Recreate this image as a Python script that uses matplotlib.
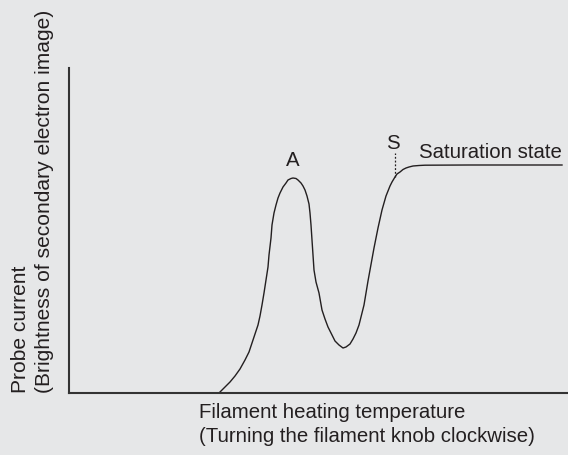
import matplotlib.pyplot as plt
import numpy as np

plt.rcParams['font.family'] = ['Liberation Sans', 'DejaVu Sans']

# probe current curve (arbitrary units)
temp = [151, 161, 166, 171, 176, 180, 183, 186, 189, 191, 193, 195, 197, 199,
        200, 202, 203, 205, 207, 209, 211, 214, 217, 219, 222, 224, 227, 229,
        232, 234, 236, 238, 240, 241, 242, 243, 244, 245, 247, 250, 253, 256,
        259, 263, 266, 270, 274, 277, 281, 284, 287, 290, 292, 295, 297, 299,
        301, 303, 305, 307, 309, 311, 313, 315, 317, 319, 321, 323, 326, 328,
        331, 334, 337, 340, 344, 350, 356, 400, 493]
current = [1, 11, 17, 24, 33, 41, 50, 59, 68, 77, 88, 100, 113, 126,
           138, 155, 168, 180, 188, 195, 200, 206, 210, 213, 214.5, 215, 214.5, 213,
           210, 207, 203, 197, 189, 180, 168, 153, 138, 123, 111, 100, 83, 74,
           66, 58, 52, 48, 45, 46, 49, 54, 60, 68, 76, 88, 100, 112,
           123, 134, 145, 155, 165, 174, 183, 190, 197, 202, 207, 211, 216, 219,
           221, 223.5, 225, 226, 227, 227.5, 227.8, 228, 228]

peak_a = (224, 215)
sat_s = (326, 216)

bg = '#e6e7e8'
ink = '#231f20'
fs = 14.7
fig = plt.figure(figsize=(5.68, 4.55), dpi=100, facecolor=bg)
ax = fig.add_axes([69/568, 62/455, 499/568, 325/455], facecolor=bg)

ax.plot(temp, current, color=ink, lw=1.0)
ax.plot([sat_s[0], sat_s[0]], [sat_s[1], sat_s[1] + 24], color=ink,
        lw=0.9, linestyle=(0, (1.5, 1.5)))
ax.text(peak_a[0], peak_a[1] + 8, 'A', ha='center', va='bottom', fontsize=fs, color=ink)
ax.text(sat_s[0] - 2, sat_s[1] + 24, 'S', ha='center', va='bottom', fontsize=fs, color=ink)
ax.text(350, 240, 'Saturation state', ha='left', va='center', fontsize=fs, color=ink)

ax.set_xlim(0, 499)
ax.set_ylim(0, 325)
ax.set_xticks([])
ax.set_yticks([])
for side in ['top', 'right']:
    ax.spines[side].set_visible(False)
for side in ['left', 'bottom']:
    ax.spines[side].set_color('#333333')
    ax.spines[side].set_linewidth(1.5)

fig.text(199/568, 1 - 413/455, 'Filament heating temperature',
         ha='left', va='center', fontsize=fs, color=ink)
fig.text(199/568, 1 - 437/455, '(Turning the filament knob clockwise)',
         ha='left', va='center', fontsize=fs, color=ink)
fig.text(20/568, 1 - 393/455, 'Probe current', ha='left', va='center',
         rotation=90, rotation_mode='anchor', fontsize=15.1, color=ink)
fig.text(44/568, 1 - 393/455, '(Brightness of secondary electron image)', ha='left',
         va='center', rotation=90, rotation_mode='anchor', fontsize=15.1, color=ink)

fig.savefig('out.png', dpi=100, facecolor=bg)
